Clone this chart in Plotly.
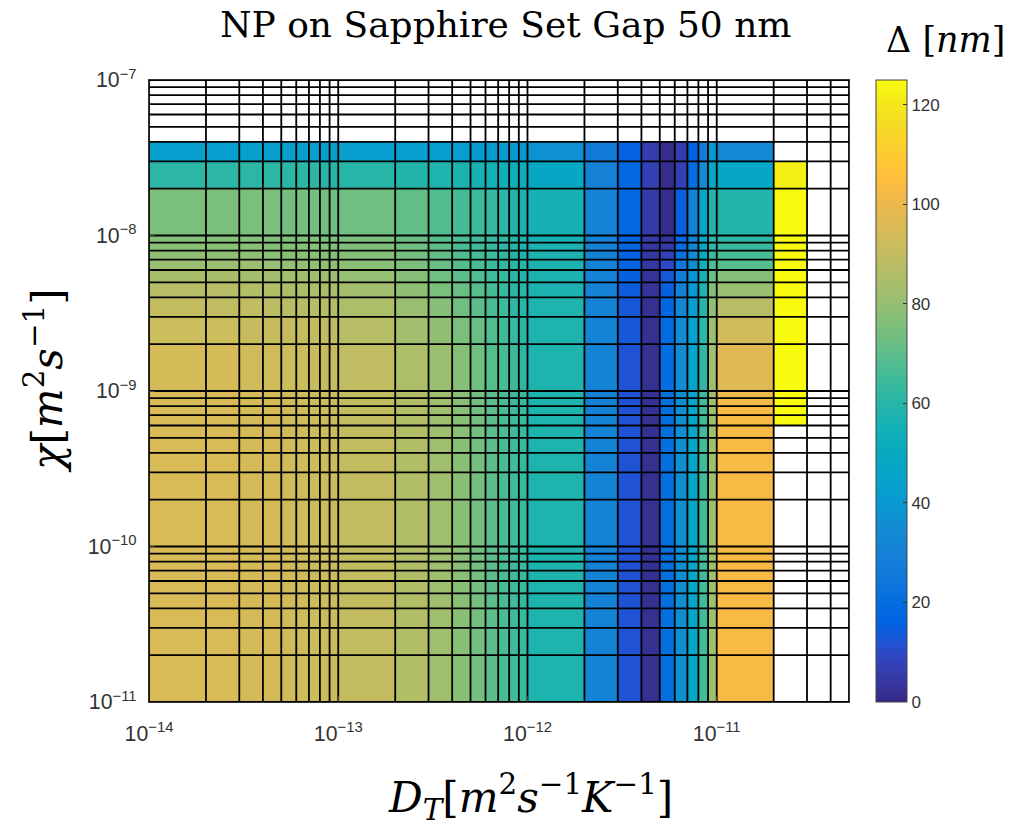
import plotly.graph_objects as go

# Cell edges of the (D_T, chi) parameter grid
DT_EDGES = [1e-14, 2e-14, 3e-14, 4e-14, 5e-14, 6e-14, 7e-14, 8e-14, 9e-14,
            1e-13, 2e-13, 3e-13, 4e-13, 5e-13, 6e-13, 7e-13, 8e-13, 9e-13,
            1e-12, 2e-12, 3e-12, 4e-12, 5e-12, 6e-12, 7e-12, 8e-12, 9e-12,
            1e-11, 2e-11, 3e-11, 4e-11, 5e-11]
CHI_EDGES = [1e-11, 2e-11, 3e-11, 4e-11, 5e-11, 6e-11, 7e-11, 8e-11, 9e-11,
             1e-10, 2e-10, 3e-10, 4e-10, 5e-10, 6e-10, 7e-10, 8e-10, 9e-10,
             1e-9, 2e-9, 3e-9, 4e-9, 5e-9, 6e-9, 7e-9, 8e-9, 9e-9,
             1e-8, 2e-8, 3e-8, 4e-8, 5e-8, 6e-8, 7e-8, 8e-8, 9e-8, 1e-7]

N = None
# Delta [nm] per cell, rows from chi = 1e-11 upward, columns from D_T = 1e-14 rightward
ROW_LOW = [95, 95, 94, 94, 93, 93, 92, 92, 92, 90, 86, 82, 78, 74, 70, 67, 65, 63, 58, 31, 12, 2, 21, 36, 47, 65, 82, 103, N, N, N]
ROW_LOW_Y = [95, 95, 94, 94, 93, 93, 92, 92, 92, 90, 86, 82, 78, 74, 70, 67, 65, 63, 58, 31, 12, 2, 21, 36, 47, 65, 82, 103, 125, N, N]
ROW_16 = [95, 95, 94, 94, 93, 93, 92, 92, 92, 90, 86, 82, 78, 74, 70, 67, 65, 63, 58, 31, 12, 2, 21, 36, 47, 65, 82, 102, 125, N, N]
ROW_17 = [95, 95, 94, 94, 93, 93, 92, 92, 92, 90, 86, 82, 78, 74, 70, 67, 65, 63, 58, 31, 12, 2, 21, 36, 46, 64, 82, 100, 125, N, N]
ROW_18 = [94, 94, 93, 93, 92, 92, 91, 91, 91, 89, 85, 81, 77, 73, 69, 66, 64, 62, 58, 31, 12, 2, 20, 35, 45, 62, 82, 97, 125, N, N]
ROW_19 = [92, 92, 91, 91, 91, 90, 90, 89, 89, 87, 83, 79, 75, 72, 68, 65, 63, 61, 58, 31, 13, 2, 19, 34, 44, 61, 81, 93, 125, N, N]
ROW_20 = [90, 89, 89, 88, 88, 87, 87, 87, 86, 85, 81, 77, 73, 70, 67, 64, 62, 60, 58, 31, 13, 2, 17, 32, 42, 60, 79, 87, 125, N, N]
ROW_21 = [87, 87, 86, 86, 85, 85, 85, 84, 84, 83, 79, 75, 72, 69, 66, 63, 61, 60, 57, 31, 14, 3, 15, 30, 40, 58, 76, 81, 125, N, N]
ROW_22 = [84, 84, 83, 83, 83, 82, 82, 82, 81, 80, 77, 73, 70, 68, 65, 63, 61, 59, 57, 31, 15, 3, 13, 28, 38, 56, 72, 77, 125, N, N]
ROW_23 = [81, 81, 81, 80, 80, 80, 79, 79, 79, 78, 75, 72, 69, 67, 64, 62, 60, 59, 57, 31, 16, 4, 10, 25, 36, 54, 68, 69, 125, N, N]
ROW_24 = [79, 79, 79, 78, 78, 78, 78, 77, 77, 77, 74, 71, 68, 66, 64, 62, 60, 58, 57, 31, 16, 4, 8, 22, 34, 51, 64, 66, 125, N, N]
ROW_25 = [78, 78, 78, 77, 77, 77, 77, 76, 76, 76, 73, 70, 67, 65, 63, 61, 60, 58, 57, 31, 17, 4, 5, 20, 32, 49, 62, 63, 125, N, N]
ROW_26 = [77, 77, 77, 76, 76, 76, 76, 75, 75, 75, 72, 69, 67, 65, 63, 61, 59, 58, 56, 31, 17, 5, 3, 18, 31, 47, 61, 61, 125, N, N]
ROW_27 = [75, 75, 75, 75, 74, 74, 74, 74, 73, 73, 71, 68, 66, 64, 63, 61, 59, 58, 56, 31, 18, 5, 1, 15, 30, 46, 59, 59, 125, N, N]
ROW_28 = [61, 61, 61, 61, 61, 61, 61, 60, 60, 60, 59, 58, 57, 56, 55, 54, 53, 52, 48, 30, 18, 7, 1, 7, 20, 35, 47, 47, 122, N, N]
ROW_29 = [43, 43, 43, 43, 43, 43, 43, 43, 43, 43, 42, 42, 42, 41, 41, 41, 40, 40, 37, 26, 16, 6, 1, 6, 16, 28, 41, 34, N, N, N]
ROW_EMPTY = [N] * 31

DELTA = ([ROW_LOW] * 14 + [ROW_LOW_Y, ROW_LOW_Y, ROW_16, ROW_17, ROW_18, ROW_19,
         ROW_20, ROW_21, ROW_22, ROW_23, ROW_24, ROW_25, ROW_26, ROW_27,
         ROW_28, ROW_29] + [ROW_EMPTY] * 6)

DELTA_MIN, DELTA_MAX = 0, 125
CBAR_TICKS = [0, 20, 40, 60, 80, 100, 120]

# parula colormap
PARULA = [
    (0.2081, 0.1663, 0.5292), (0.2116, 0.1898, 0.5777), (0.2123, 0.2138, 0.6270), (0.2081, 0.2386, 0.6771),
    (0.1959, 0.2645, 0.7279), (0.1707, 0.2919, 0.7792), (0.1253, 0.3242, 0.8303), (0.0591, 0.3598, 0.8683),
    (0.0117, 0.3875, 0.8820), (0.0060, 0.4086, 0.8828), (0.0165, 0.4266, 0.8786), (0.0329, 0.4430, 0.8720),
    (0.0498, 0.4586, 0.8641), (0.0629, 0.4737, 0.8554), (0.0723, 0.4887, 0.8467), (0.0779, 0.5040, 0.8384),
    (0.0793, 0.5200, 0.8312), (0.0749, 0.5375, 0.8263), (0.0641, 0.5570, 0.8240), (0.0488, 0.5772, 0.8228),
    (0.0343, 0.5966, 0.8199), (0.0265, 0.6137, 0.8135), (0.0239, 0.6287, 0.8038), (0.0231, 0.6418, 0.7913),
    (0.0228, 0.6535, 0.7768), (0.0267, 0.6642, 0.7607), (0.0384, 0.6743, 0.7436), (0.0590, 0.6838, 0.7254),
    (0.0843, 0.6928, 0.7062), (0.1133, 0.7015, 0.6859), (0.1453, 0.7098, 0.6646), (0.1801, 0.7177, 0.6424),
    (0.2178, 0.7250, 0.6193), (0.2586, 0.7317, 0.5954), (0.3022, 0.7376, 0.5712), (0.3482, 0.7424, 0.5473),
    (0.3953, 0.7459, 0.5244), (0.4420, 0.7481, 0.5033), (0.4871, 0.7491, 0.4840), (0.5300, 0.7491, 0.4661),
    (0.5709, 0.7485, 0.4494), (0.6099, 0.7473, 0.4337), (0.6473, 0.7456, 0.4188), (0.6834, 0.7435, 0.4044),
    (0.7184, 0.7411, 0.3905), (0.7525, 0.7384, 0.3768), (0.7858, 0.7356, 0.3633), (0.8185, 0.7327, 0.3498),
    (0.8507, 0.7299, 0.3360), (0.8824, 0.7274, 0.3217), (0.9139, 0.7258, 0.3063), (0.9450, 0.7261, 0.2886),
    (0.9739, 0.7314, 0.2666), (0.9938, 0.7455, 0.2403), (0.9990, 0.7653, 0.2164), (0.9955, 0.7861, 0.1967),
    (0.9880, 0.8066, 0.1794), (0.9789, 0.8271, 0.1633), (0.9697, 0.8481, 0.1475), (0.9626, 0.8705, 0.1309),
    (0.9589, 0.8949, 0.1132), (0.9598, 0.9218, 0.0948), (0.9661, 0.9514, 0.0755), (0.9763, 0.9831, 0.0538),
]
colorscale = [[i / (len(PARULA) - 1), "rgb(%d,%d,%d)" % tuple(round(255 * c) for c in rgb)]
              for i, rgb in enumerate(PARULA)]

fig = go.Figure()

fig.add_trace(go.Heatmap(
    x=DT_EDGES, y=CHI_EDGES, z=DELTA,
    zmin=DELTA_MIN, zmax=DELTA_MAX, zsmooth=False,
    colorscale=colorscale, hoverongaps=False,
    colorbar=dict(
        x=(876 - 149) / 700, xanchor="left", xpad=0, ypad=0,
        y=0.5, yanchor="middle", len=622, lenmode="pixels",
        thickness=31, thicknessmode="pixels",
        outlinecolor="#444", outlinewidth=1,
        tickvals=CBAR_TICKS, ticks="inside", ticklen=4, tickcolor="#333",
        tickfont=dict(family="Liberation Sans, Arial", size=17, color="#333"),
    ),
))

# faceted cell borders
gx, gy = [], []
for xv in DT_EDGES:
    gx += [xv, xv, None]
    gy += [CHI_EDGES[0], CHI_EDGES[-1], None]
for yv in CHI_EDGES:
    gx += [DT_EDGES[0], DT_EDGES[-1], None]
    gy += [yv, yv, None]
fig.add_trace(go.Scatter(x=gx, y=gy, mode="lines",
                         line=dict(color="black", width=1.8),
                         hoverinfo="skip", showlegend=False))

tick_font = dict(family="Liberation Sans, Arial", size=17, color="#333")
fig.update_xaxes(type="log", range=[-14, -10.30103], dtick=1, exponentformat="power",
                 showgrid=False, zeroline=False, ticks="inside", ticklen=6,
                 tickfont=tick_font, ticklabelstandoff=13,
                 showline=True, linecolor="#333", mirror=True)
fig.update_yaxes(type="log", range=[-11, -7], dtick=1, exponentformat="power",
                 showgrid=False, zeroline=False, ticks="inside", ticklen=6,
                 tickfont=tick_font, ticklabelstandoff=8,
                 showline=True, linecolor="#333", mirror=True)

serif = "DejaVu Serif, Liberation Serif, serif"
annotations = [
    dict(text="NP on Sapphire Set Gap 50 nm", x=506, y=24,
         font=dict(family=serif, size=36, color="black")),
    dict(text="Δ [<i>nm</i>]", x=945, y=40,
         font=dict(family=serif, size=35, color="black")),
    dict(text="<i>D<sub>T</sub></i>[<i>m</i><sup>2</sup><i>s</i><sup>−1</sup><i>K</i><sup>−1</sup>]",
         x=530, y=797, font=dict(family=serif, size=42, color="black")),
    dict(text="<i>χ</i>[<i>m</i><sup>2</sup><i>s</i><sup>−1</sup>]", x=44, y=381, textangle=-90,
         font=dict(family=serif, size=42, color="black")),
]
for a in annotations:
    px, py = a.pop("x"), a.pop("y")
    fig.add_annotation(xref="paper", yref="paper", showarrow=False,
                       x=(px - 149) / 700, y=(702 - py) / 622,
                       xanchor="center", yanchor="middle", **a)

fig.update_layout(
    width=1013, height=826,
    margin=dict(l=149, r=164, t=80, b=124),
    paper_bgcolor="white", plot_bgcolor="white",
    showlegend=False,
)

fig.write_html("out.html")
